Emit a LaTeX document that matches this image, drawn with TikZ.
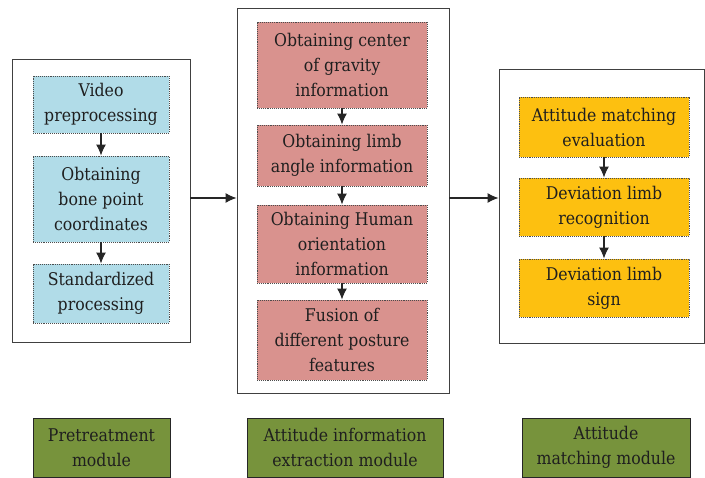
\documentclass[tikz,border=0pt]{standalone}
\usepackage{fontspec}
\setmainfont{DejaVu Serif Condensed}
\usetikzlibrary{arrows.meta,calc}

\definecolor{preblue}{HTML}{B1DCE8}
\definecolor{extred}{HTML}{D9928E}
\definecolor{matorange}{HTML}{FDC010}
\definecolor{modgreen}{HTML}{77933C}

\begin{document}
\begin{tikzpicture}
	[x=1pt,y=-1pt,font=\fontsize{17.5}{25}\selectfont,
	every node/.style={align=center,inner sep=1pt,text=black!88},
	frame/.style={draw=black!75,line width=0.9pt},
	stepbox/.style={draw=black!70,densely dotted,line width=0.9pt,minimum width=#1},
	mod/.style={draw=black!85,fill=modgreen,line width=0.9pt,minimum height=59pt},
	flow/.style={-{Latex[length=11pt,width=10pt]},line width=1.1pt,black!85}]
	\useasboundingbox (0,0) rectangle (705,478);
	% module frames
	\node[frame,minimum width=178pt,minimum height=283pt] (f1) at (101,200.5) {};
	\node[frame,minimum width=212pt,minimum height=385pt] (f2) at (343,200.5) {};
	\node[frame,minimum width=205pt,minimum height=274pt] (f3) at (601.5,206) {};
	
	% pretreatment steps
	\node[stepbox=136pt,fill=preblue,minimum height=57pt] (p1) at (101,104.5) {Video\\preprocessing};
	\node[stepbox=136pt,fill=preblue,minimum height=86pt] (p2) at (101,199) {Obtaining\\bone point\\coordinates};
	\node[stepbox=136pt,fill=preblue,minimum height=59pt] (p3) at (101,293.5) {Standardized\\processing};
	
	% extraction steps
	\node[stepbox=170pt,fill=extred,minimum height=86pt] (e1) at (342,65) {Obtaining center\\of gravity\\information};
	\node[stepbox=170pt,fill=extred,minimum height=61pt] (e2) at (342,155.5) {Obtaining limb\\angle information};
	\node[stepbox=170pt,fill=extred,minimum height=78pt] (e3) at (342,244) {Obtaining Human\\orientation\\information};
	\node[stepbox=170pt,fill=extred,minimum height=80pt] (e4) at (342,340) {Fusion of\\different posture\\features};
	
	% matching steps
	\node[stepbox=170pt,fill=matorange,minimum height=60pt] (m1) at (604,127) {Attitude matching\\evaluation};
	\node[stepbox=170pt,fill=matorange,minimum height=58pt] (m2) at (604,207) {Deviation limb\\recognition};
	\node[stepbox=170pt,fill=matorange,minimum height=58pt] (m3) at (604,288) {Deviation limb\\sign};
	
	% module names
	\node[mod,minimum width=137pt] (b1) at (101.5,447.5) {Pretreatment\\module};
	\node[mod,minimum width=196pt] (b2) at (345,447.5) {Attitude information\\extraction module};
	\node[mod,minimum width=168pt] (b3) at (606,447.5) {Attitude\\matching module};
	
	\path
	\foreach \startNode/\endNode in {p1/p2,p2/p3,e1/e2,e2/e3,e3/e4,m1/m2,m2/m3}
	{
		(\startNode.south) edge[flow] (\endNode.north)
	};
	\draw[flow] ($(f1.east)+(0,-2.5)$) -- ($(f1.east -| f2.west)+(0,-2.5)$);
	\draw[flow] ($(f2.east)+(0,-2.5)$) -- ($(f2.east -| f3.west)+(0,-2.5)$);
\end{tikzpicture}
\end{document}
